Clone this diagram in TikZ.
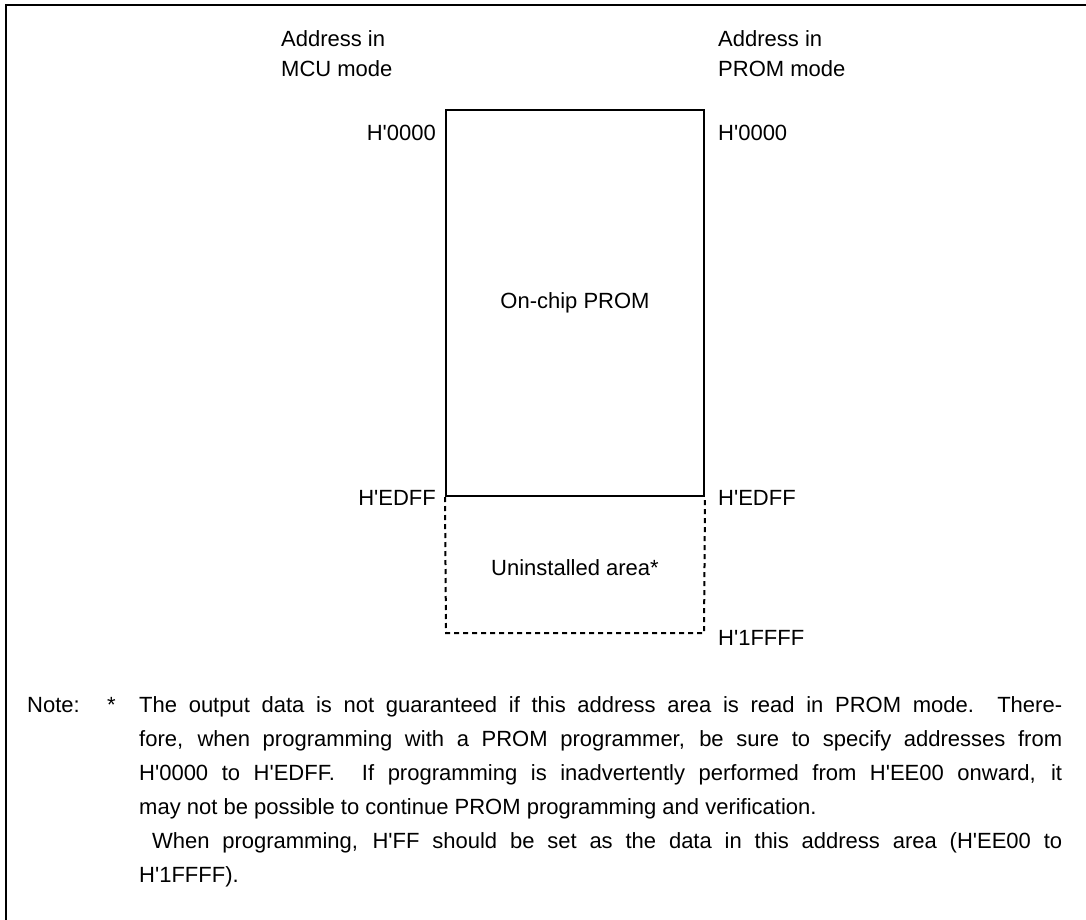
\documentclass[tikz,border=0pt]{standalone}
\usepackage{fontspec}
\setmainfont{Liberation Sans}[Ligatures=TeXOff]
\usetikzlibrary{positioning}

\tikzset{
	addr/.style={inner sep=0pt},
	area/.style={line width=2pt},
	unused/.style={line width=2pt, dash pattern=on 5pt off 4pt},
}

\begin{document}
\begin{tikzpicture}[x=1pt, y=-1pt, font=\fontsize{22}{34}\selectfont]
		\useasboundingbox (0,0) rectangle (1086,920);
		% frame
		\coordinate (fbl) at (6,920);
		\coordinate (ftl) at (6,5);
		\coordinate (ftr) at (1086,5);
		\draw[line width=2pt] (fbl) -- (ftl) -- (ftr);

		% memory map
		\node[draw, area, inner sep=0pt, minimum width=258pt, minimum height=386pt] (prom) at (575,303) {On-chip PROM};
		\coordinate (ubl) at (446,633);
		\coordinate (ubr) at (704,633);
		\draw[unused] (prom.south west) -- (ubl) -- (ubr) -- (prom.south east);
		\node[addr] (gap) at (575,568) {Uninstalled area*};

		% headings
		\node[addr, anchor=north west, align=left, font=\fontsize{22}{30}\selectfont] (mcuhead) at (281,30) {Address in\\MCU mode};
		\node[addr, anchor=north west, align=left, font=\fontsize{22}{30}\selectfont] (promhead) at (718,30) {Address in\\PROM mode};

		% addresses
		\node[addr, anchor=base east] (mcutop) at (436,141) {H'0000};
		\node[addr, anchor=base east] (mcuend) at (436,505) {H'EDFF};
		\node[addr, anchor=base west] (promtop) at (718,141) {H'0000};
		\node[addr, anchor=base west] (promend) at (718,505) {H'EDFF};
		\node[addr, anchor=base west] (promlast) at (718,645) {H'1FFFF};

		% note
		\node[addr, anchor=base west] (note) at (27,712) {Note:};
		\node[addr, anchor=base west] (star) at (107,712) {*};
		\node[addr, anchor=base west, text width=923pt, align=justify] (notetext) at (139,712)
			{The output data is not guaranteed if this address area is read in PROM mode.\ \ There-\linebreak
			fore, when programming with a PROM programmer, be sure to specify addresses from\linebreak
			H'0000 to H'EDFF.\ \ If programming is inadvertently performed from H'EE00 onward, it\linebreak
			may not be possible to continue PROM programming and verification.\par
			\ When programming, H'FF should be set as the data in this address area (H'EE00 to\linebreak
			H'1FFFF).};
	\end{tikzpicture}
\end{document}
